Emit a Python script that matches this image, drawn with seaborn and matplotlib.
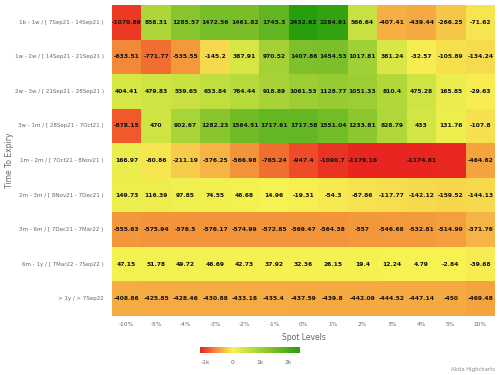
import numpy as np
import pandas as pd
import seaborn as sns
import matplotlib.pyplot as plt
from matplotlib.colors import LinearSegmentedColormap

# ---------- dados ---------- #
spot_levels = ["-10%", "-5%", "-4%", "-3%", "-2%", "-1%", "0%", "1%", "2%", "3%", "4%", "5%", "10%"]
expiries = [
    "1b - 1w / [ 7Sep21 - 14Sep21 )",
    "1w - 2w / [ 14Sep21 - 21Sep21 )",
    "2w - 3w / [ 21Sep21 - 28Sep21 )",
    "3w - 1m / [ 28Sep21 - 7Oct21 )",
    "1m - 2m / [ 7Oct21 - 8Nov21 )",
    "2m - 3m / [ 8Nov21 - 7Dec21 )",
    "3m - 6m / [ 7Dec21 - 7Mar22 )",
    "6m - 1y / [ 7Mar22 - 7Sep22 )",
    "> 1y / > 7Sep22",
]
r_1b_1w = [-1070.89, 858.31, 1285.57, 1472.56, 1461.82, 1745.3, 2432.62, 2284.91, 566.64, -407.41, -439.44, -266.25, -71.62]
r_1w_2w = [-633.51, -771.77, -535.55, -145.2, 387.91, 970.52, 1407.86, 1454.53, 1017.81, 381.24, -32.57, -105.89, -134.24]
r_2w_3w = [404.41, 479.83, 539.65, 633.84, 764.44, 918.89, 1061.53, 1128.77, 1051.33, 810.4, 475.28, 165.85, -29.63]
r_3w_1m = [-878.15, 470, 902.67, 1282.23, 1564.51, 1717.61, 1717.58, 1551.04, 1233.81, 828.79, 433, 131.76, -107.8]
r_1m_2m = [166.97, -80.86, -211.19, -376.25, -566.98, -765.24, -947.4, -1090.7, -1179.16, -1185.0, -1174.81, -1165.0, -464.62]
r_2m_3m = [149.73, 116.39, 97.85, 74.55, 46.68, 14.96, -19.31, -54.3, -87.86, -117.77, -142.12, -159.52, -144.13]
r_3m_6m = [-555.63, -575.94, -576.5, -576.17, -574.99, -572.85, -569.47, -564.38, -557, -546.68, -532.81, -514.99, -371.76]
r_6m_1y = [47.15, 51.78, 49.72, 46.69, 42.73, 37.92, 32.36, 26.15, 19.4, 12.24, 4.79, -2.84, -39.68]
r_1y = [-408.86, -425.85, -428.46, -430.88, -433.18, -435.4, -437.59, -439.8, -442.09, -444.52, -447.14, -450, -469.48]
# rótulos escondidos no original (sobreposição)
hidden = [(4, 9), (4, 11)]

df = pd.DataFrame([r_1b_1w, r_1w_2w, r_2w_3w, r_3w_1m, r_1m_2m, r_2m_3m, r_3m_6m, r_6m_1y, r_1y],
                  index=expiries, columns=spot_levels)

labels = df.map(lambda v: f"{v:g}").values.astype(object)
for i, j in hidden:
    labels[i, j] = ""

vmin, vmax = df.values.min(), df.values.max()
stops = [(vmin, "#e8251f"), (-880, "#f05a2c"), (-560, "#f3973b"), (-400, "#f5b043"),
         (-150, "#f6d94d"), (0, "#f7f252"), (400, "#d6e645"), (900, "#a9d438"),
         (1450, "#7bbf2a"), (vmax, "#279f0c")]
cmap = LinearSegmentedColormap.from_list(
    "hc", [((v - vmin) / (vmax - vmin), c) for v, c in stops])

# ---------- plot ---------- #
sns.set_theme(style="white")
plt.rcParams['font.family'] = ['DejaVu Sans']
fig = plt.figure(figsize=(5, 3.75), dpi=100)
ax = fig.add_axes([112 / 500, 1 - 316 / 375, 383 / 500, 311 / 375])
cax = fig.add_axes([200 / 500, 1 - 353 / 375, 100 / 500, 6 / 375])

sns.heatmap(df, ax=ax, cmap=cmap, vmin=vmin, vmax=vmax, annot=labels, fmt="",
            annot_kws={"fontsize": 4.3, "fontweight": "bold", "color": "#111111"},
            cbar_ax=cax, cbar_kws={"orientation": "horizontal", "ticks": [-1000, 0, 1000, 2000]})

ax.set_xlabel("Spot Levels", fontsize=5.5, color="#666666", labelpad=4)
ax.set_ylabel("Time To Expiry", fontsize=5.5, color="#666666")
ax.tick_params(axis="x", labelsize=4.2, colors="#666666", length=2.5, pad=2, width=0.5)
ax.tick_params(axis="y", labelsize=4.0, colors="#666666", length=0, pad=6)
ax.tick_params(axis="x", color="#cccccc")
plt.setp(ax.get_xticklabels(), rotation=0)
plt.setp(ax.get_yticklabels(), rotation=0)
ax.yaxis.set_label_coords(-0.255, 0.5)

cax.tick_params(labelsize=4.3, colors="#666666", length=0, pad=5)
cax.set_xticklabels(["-1k", "0", "1k", "2k"])
for s in cax.spines.values():
    s.set_visible(False)

fig.text(0.99, 0.008, "Akita Highcharts", ha="right", va="bottom", fontsize=3.8, color="#888888")

fig.savefig("out.png", dpi=100)
